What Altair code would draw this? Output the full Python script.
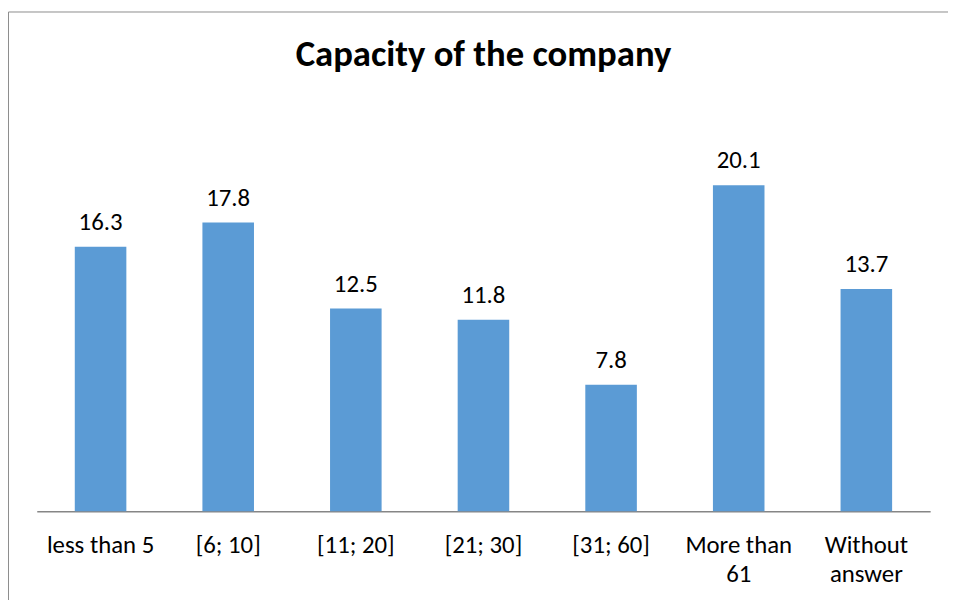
import altair as alt
import pandas as pd

categories = ["less than 5", "[6; 10]", "[11; 20]", "[21; 30]", "[31; 60]", "More than\n61", "Without\nanswer"]
values = [16.3, 17.8, 12.5, 11.8, 7.8, 20.1, 13.7]
title_text = "Capacity of the company"

df = pd.DataFrame({"category": categories, "value": values})

FONT = "Carlito, Lato, 'Open Sans', sans-serif"
W, H = 901, 409

x = alt.X("category:N", sort=categories, title=None,
          scale=alt.Scale(paddingInner=0.596, paddingOuter=0.298),
          axis=alt.Axis(labelAngle=0, ticks=False, domainColor="#868686", domainWidth=1.3,
                        labelFontSize=25, labelFont=FONT, labelColor="#000000",
                        labelPadding=22, labelLineHeight=29, labelBaseline="top",
                        labelExpr="split(datum.label, '\\n')"))
y = alt.Y("value:Q", title=None, scale=alt.Scale(domain=[0, 25], nice=False), axis=None)

bars = alt.Chart(df).mark_bar(color="#5B9BD5").encode(x=x, y=y)
labels = alt.Chart(df).mark_text(fontSize=25, font=FONT, color="#000000", baseline="alphabetic", dy=-17).encode(
    x=alt.X("category:N", sort=categories), y="value:Q", text=alt.Text("value:Q", format=".1f"))

border = alt.Chart(alt.Data(values=[{}])).mark_rect(fill=None, stroke="#8c8c8c", strokeWidth=1).encode(
    x=alt.value(-28.5), x2=alt.value(W + 40), y=alt.value(-94.5), y2=alt.value(H + 120))

title = alt.Chart(alt.Data(values=[{"t": title_text}])).mark_text(
    font=FONT, fontSize=37, fontWeight="bold", color="#000000", baseline="alphabetic").encode(
    x=alt.value(W / 2), y=alt.value(-40), text="t:N")

chart = alt.layer(border, bars, labels, title).properties(
    width=W, height=H,
    autosize=alt.AutoSizeParams(type="none"),
    padding={"left": 29, "top": 96, "right": 18, "bottom": 87},
).configure_view(stroke=None)

chart.save("out.html", embed_options={"renderer": "svg", "actions": False})
